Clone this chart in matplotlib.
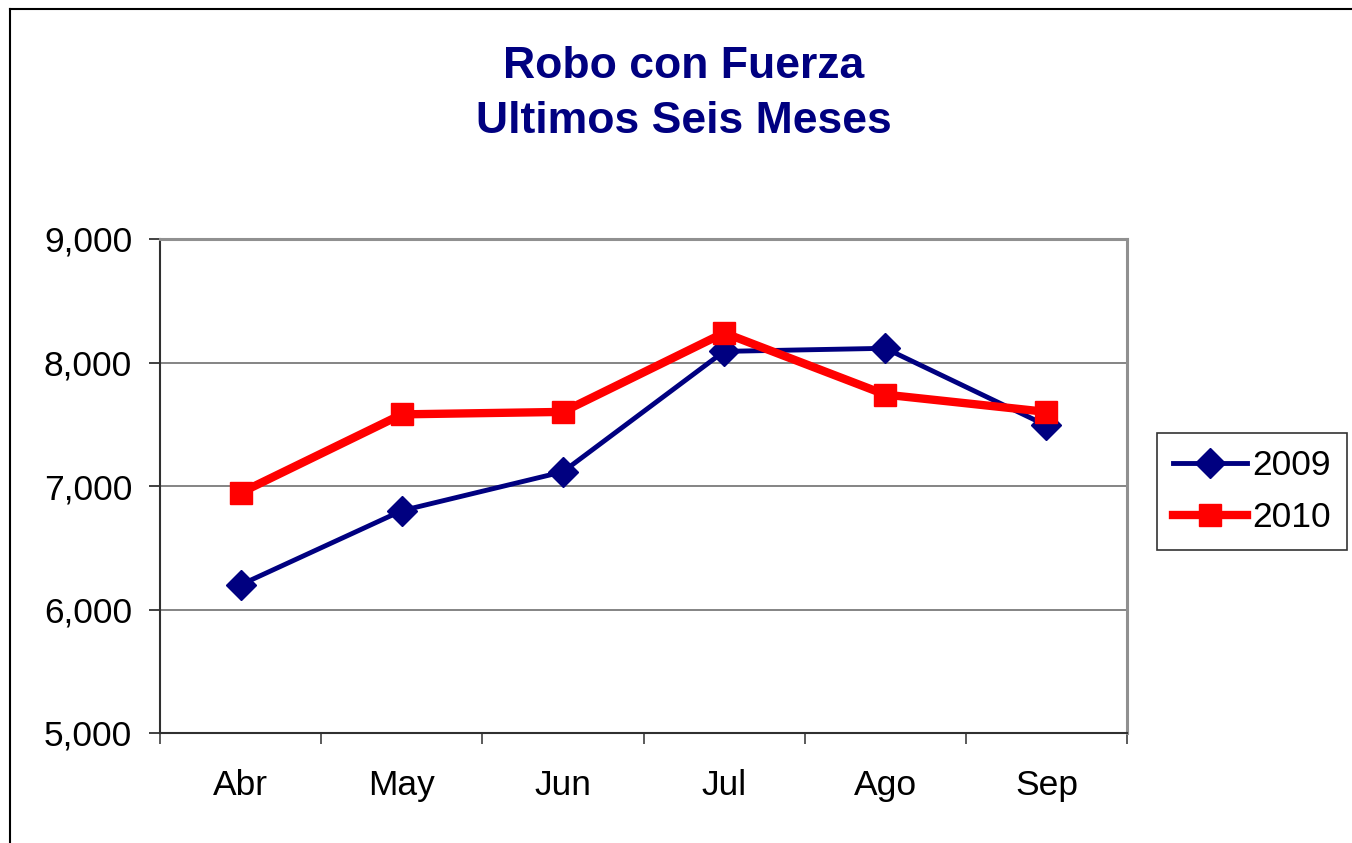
# libraries
import numpy as np
import matplotlib.pyplot as plt
from matplotlib.lines import Line2D
from matplotlib.ticker import FuncFormatter

plt.rcParams['font.family'] = ['Liberation Sans', 'DejaVu Sans']

# data
months = ['Abr', 'May', 'Jun', 'Jul', 'Ago', 'Sep']
robos_2009 = [6200, 6800, 7115, 8090, 8115, 7490]
robos_2010 = [6945, 7580, 7600, 8240, 7740, 7600]

fig = plt.figure(figsize=(13.52, 8.43), dpi=100)
ax = fig.add_axes([160/1352, 1-733/843, (1127-160)/1352, (733-239)/843])

x = np.arange(len(months))
ax.plot(x, robos_2009, color='#000080', lw=3.5, marker='D', ms=15, label='2009', zorder=3)
ax.plot(x, robos_2010, color='#ff0000', lw=6, marker='s', ms=16, label='2010', zorder=4)

ax.set_xlim(-0.5, 5.5)
ax.set_ylim(5000, 9000)
ax.set_yticks([5000, 6000, 7000, 8000, 9000])
ax.yaxis.set_major_formatter(FuncFormatter(lambda v, p: f'{int(v):,}'))
ax.set_xticks(x)
ax.set_xticklabels(months)
ax.set_xticks(np.arange(-0.5, 6, 1), minor=True)
ax.tick_params(axis='x', which='major', length=0, pad=26, labelsize=25.5)
ax.tick_params(axis='x', which='minor', length=8, width=1.2, color='#404040')
ax.tick_params(axis='y', length=8, width=1.2, color='#202020', pad=12, labelsize=25.5)

ax.grid(axis='y', color='#707070', lw=1.2)
ax.set_axisbelow(True)
for s in ['top', 'right']:
    ax.spines[s].set_color('#909090')
    ax.spines[s].set_linewidth(2.2)
for s in ['left', 'bottom']:
    ax.spines[s].set_color('#303030')
    ax.spines[s].set_linewidth(1.5)

fig.text(684/1352, 1-46/843, 'Robo con Fuerza\nUltimos Seis Meses', ha='center', va='top',
         fontsize=32, fontweight='bold', color='#000080', linespacing=1.45)

leg = fig.legend(loc='upper left', bbox_to_anchor=(1157/1352, 1-433/843), fontsize=25.5,
                 frameon=True, fancybox=False, edgecolor='black', handlelength=2.1,
                 handletextpad=0.15, labelspacing=0.55, borderpad=0.45, borderaxespad=0)
leg.get_frame().set_linewidth(1.2)

# outer chart frame (top and left edges visible)
fig.add_artist(Line2D([10/1352, 1], [1-9/843, 1-9/843], color='black', lw=1.5))
fig.add_artist(Line2D([10/1352, 10/1352], [0, 1-9/843], color='black', lw=1.5))

plt.savefig('out.png', dpi=100)
